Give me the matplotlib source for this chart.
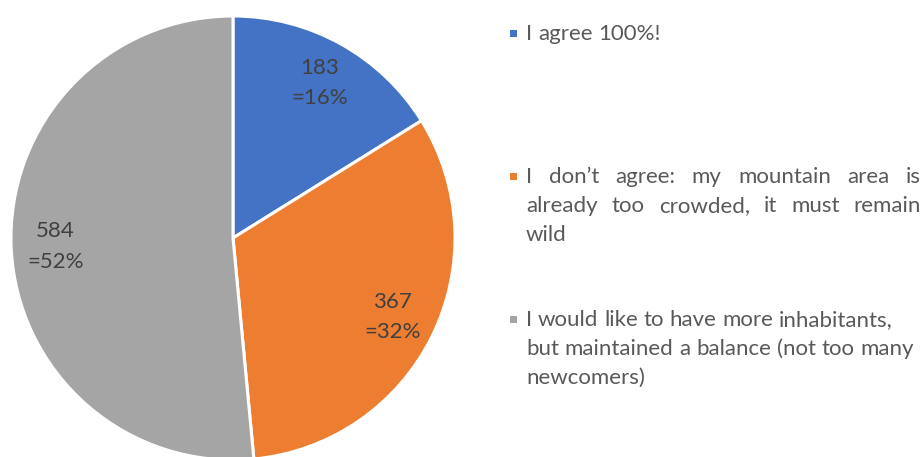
import matplotlib
matplotlib.use('Agg')
import matplotlib.pyplot as plt
from matplotlib.patches import Rectangle

plt.rcParams['font.family'] = ['Lato', 'DejaVu Sans']

labels = ['I agree 100%!',
          'I don’t agree: my mountain area is already too crowded, it must remain wild',
          'I would like to have more inhabitants, but maintained a balance (not too many newcomers)']
counts = [183, 367, 584]
pct_labels = ['16%', '32%', '52%']
colors = ['#4472C4', '#ED7D31', '#A5A5A5']

W, H = 924, 457
fig = plt.figure(figsize=(W / 100, H / 100), dpi=100)
fig.patch.set_facecolor('white')

# pie: centre (233, 238) px, radius 222 px
cx, cy, r = 233, 238, 222
ax = fig.add_axes([(cx - r) / W, (H - cy - r) / H, 2 * r / W, 2 * r / H])

wedges, texts, autotexts = ax.pie(counts, colors=colors, startangle=90, counterclock=False,
                                  autopct='%1.0f', pctdistance=0.8,
                                  wedgeprops=dict(edgecolor='white', linewidth=2.2))
for t, n, p in zip(autotexts, counts, pct_labels):
    t.set_text(f'{n}\n={p}')
    t.set_color('#404040')
    t.set_fontsize(16)
    t.set_linespacing(1.65)
ax.set_xlim(-1, 1)
ax.set_ylim(-1, 1)
ax.set_aspect('equal')
ax.axis('off')

FS = 16
TXT = '#595959'
x0, x1 = 526, 921
renderer = fig.canvas.get_renderer()

def line(words, ybase, justify=False):
    ts = [fig.text(x0 / W, 1 - ybase / H, w, fontsize=FS, color=TXT, va='baseline', ha='left')
          for w in words]
    widths = [t.get_window_extent(renderer).width for t in ts]
    if justify and len(words) > 1:
        gap = (x1 - x0 - sum(widths)) / (len(words) - 1)
    else:
        sp = fig.text(0, 0, 'a a', fontsize=FS)
        sp2 = fig.text(0, 0, 'aa', fontsize=FS)
        gap = sp.get_window_extent(renderer).width - sp2.get_window_extent(renderer).width
        sp.remove()
        sp2.remove()
    x = x0
    for t, w in zip(ts, widths):
        t.set_x(x / W)
        x += w + gap

def marker(color, yc):
    fig.add_artist(Rectangle(((513 - 3.5) / W, 1 - (yc + 3.5) / H), 7 / W, 7 / H,
                             transform=fig.transFigure, facecolor=color, edgecolor='none'))

marker(colors[0], 33)
line('I agree 100%!'.split(), 40)

marker(colors[1], 176)
line('I don’t agree: my mountain area is'.split(), 183, justify=True)
line('already too crowded, it must remain'.split(), 212, justify=True)
line(['wild'], 241)

marker(colors[2], 319)
line('I would like to have more inhabitants,'.split(), 326)
line('but maintained a balance (not too many'.split(), 355)
line(['newcomers)'], 384)

fig.savefig('out.png', dpi=100, facecolor='white')
